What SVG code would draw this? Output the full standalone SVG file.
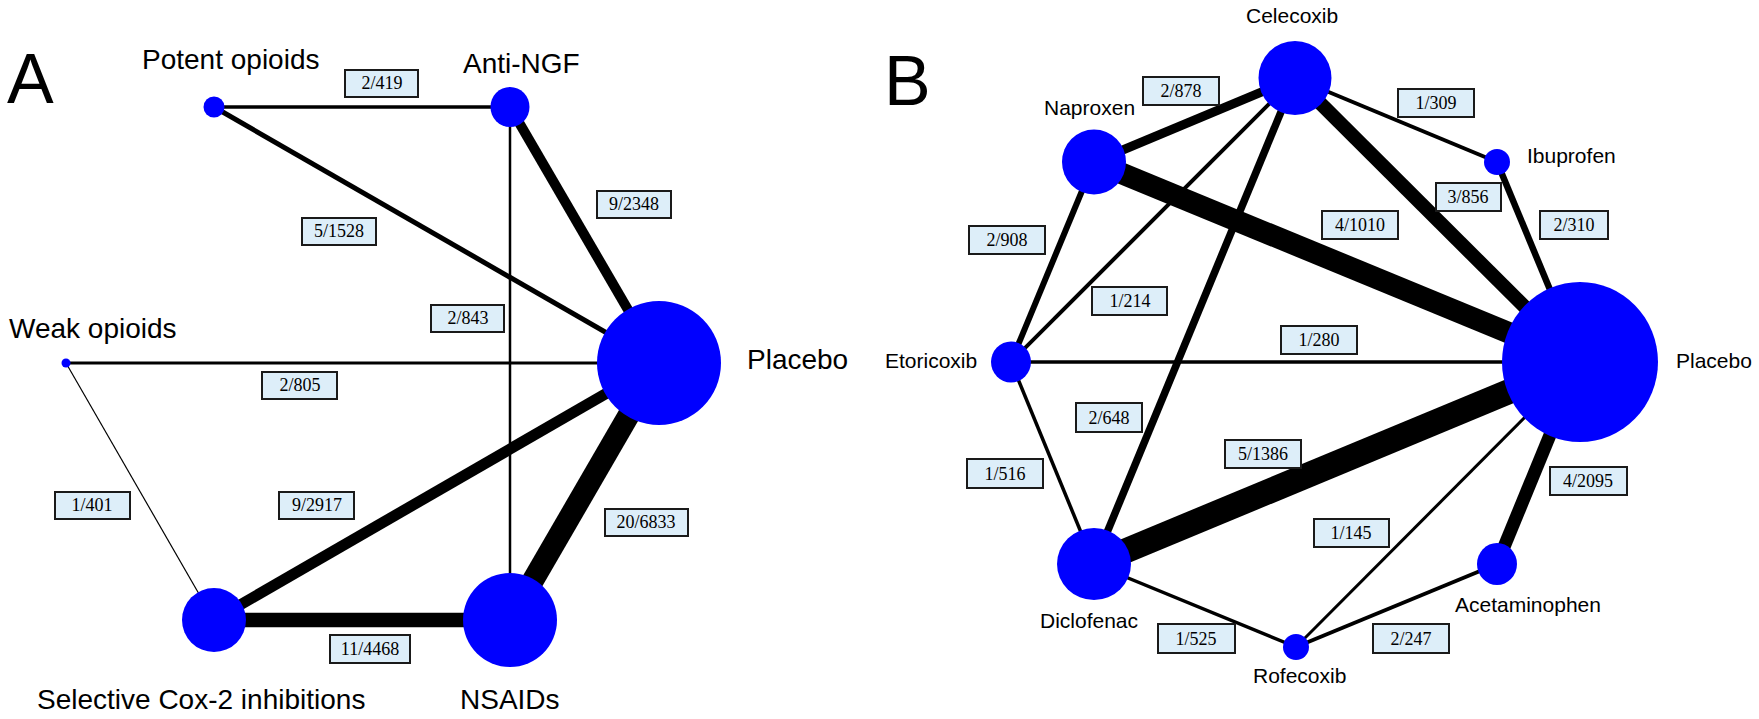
<svg xmlns="http://www.w3.org/2000/svg" width="1759" height="719" viewBox="0 0 1759 719">
<style>
.n{fill:#0000ff}
.e{stroke:#000;fill:none}
.lb rect{fill:#ddeef9;stroke:#1a1a1a;stroke-width:2}
.lb text{font-family:"Liberation Serif",serif;font-size:18px;text-anchor:middle;fill:#000}
.t{font-family:"Liberation Sans",Arial,sans-serif;fill:#000}
.ta{font-size:28px}
.tb{font-size:21px}
.big{font-size:70px}
</style>
<rect width="1759" height="719" fill="#fff"/>
<text class="t big" x="7" y="103">A</text>
<text class="t big" x="884" y="105">B</text>
<g id="edges">
<line class="e" x1="214" y1="107" x2="510" y2="107" stroke-width="3.5"/>
<line class="e" x1="214" y1="107" x2="659" y2="363" stroke-width="5"/>
<line class="e" x1="510" y1="107" x2="659" y2="363" stroke-width="10"/>
<line class="e" x1="510" y1="107" x2="510" y2="620" stroke-width="2.5"/>
<line class="e" x1="66" y1="363" x2="659" y2="363" stroke-width="3"/>
<line class="e" x1="66" y1="363" x2="214" y2="620" stroke-width="1.2"/>
<line class="e" x1="214" y1="620" x2="659" y2="363" stroke-width="11"/>
<line class="e" x1="510" y1="620" x2="659" y2="363" stroke-width="22"/>
<line class="e" x1="214" y1="620" x2="510" y2="620" stroke-width="14.5"/>
<line class="e" x1="1295" y1="78" x2="1094" y2="162" stroke-width="9"/>
<line class="e" x1="1295" y1="78" x2="1497" y2="162" stroke-width="4"/>
<line class="e" x1="1295" y1="78" x2="1580" y2="362" stroke-width="14"/>
<line class="e" x1="1295" y1="78" x2="1011" y2="362" stroke-width="4"/>
<line class="e" x1="1295" y1="78" x2="1094" y2="564" stroke-width="7.5"/>
<line class="e" x1="1094" y1="162" x2="1580" y2="362" stroke-width="21.5"/>
<line class="e" x1="1094" y1="162" x2="1011" y2="362" stroke-width="6"/>
<line class="e" x1="1497" y1="162" x2="1580" y2="362" stroke-width="6.5"/>
<line class="e" x1="1011" y1="362" x2="1580" y2="362" stroke-width="3.5"/>
<line class="e" x1="1011" y1="362" x2="1094" y2="564" stroke-width="3.5"/>
<line class="e" x1="1094" y1="564" x2="1580" y2="362" stroke-width="25"/>
<line class="e" x1="1094" y1="564" x2="1296" y2="647" stroke-width="3.5"/>
<line class="e" x1="1296" y1="647" x2="1580" y2="362" stroke-width="3"/>
<line class="e" x1="1296" y1="647" x2="1497" y2="564" stroke-width="4"/>
<line class="e" x1="1497" y1="564" x2="1580" y2="362" stroke-width="13"/>
</g>
<g id="edge-labels">
<g class="lb"><rect x="345" y="70" width="73" height="27"/><text x="382" y="89">2/419</text></g>
<g class="lb"><rect x="302" y="218" width="74" height="27"/><text x="339" y="237">5/1528</text></g>
<g class="lb"><rect x="597" y="191" width="74" height="27"/><text x="634" y="210">9/2348</text></g>
<g class="lb"><rect x="431" y="305" width="73" height="27"/><text x="468" y="324">2/843</text></g>
<g class="lb"><rect x="262" y="372" width="75" height="27"/><text x="300" y="391">2/805</text></g>
<g class="lb"><rect x="55" y="492" width="75" height="27"/><text x="92" y="511">1/401</text></g>
<g class="lb"><rect x="279" y="492" width="75" height="27"/><text x="317" y="511">9/2917</text></g>
<g class="lb"><rect x="605" y="509" width="83" height="27"/><text x="646" y="528">20/6833</text></g>
<g class="lb"><rect x="330" y="635" width="80" height="28"/><text x="370" y="655">11/4468</text></g>
<g class="lb"><rect x="1143" y="77" width="76" height="28"/><text x="1181" y="97">2/878</text></g>
<g class="lb"><rect x="1398" y="89" width="76" height="28"/><text x="1436" y="109">1/309</text></g>
<g class="lb"><rect x="1436" y="183" width="65" height="28"/><text x="1468" y="203">3/856</text></g>
<g class="lb"><rect x="1540" y="211" width="68" height="28"/><text x="1574" y="231">2/310</text></g>
<g class="lb"><rect x="1322" y="211" width="76" height="28"/><text x="1360" y="231">4/1010</text></g>
<g class="lb"><rect x="969" y="226" width="76" height="28"/><text x="1007" y="246">2/908</text></g>
<g class="lb"><rect x="1092" y="287" width="75" height="28"/><text x="1130" y="307">1/214</text></g>
<g class="lb"><rect x="1281" y="326" width="76" height="28"/><text x="1319" y="346">1/280</text></g>
<g class="lb"><rect x="1076" y="403" width="66" height="29"/><text x="1109" y="424">2/648</text></g>
<g class="lb"><rect x="967" y="459" width="76" height="29"/><text x="1005" y="480">1/516</text></g>
<g class="lb"><rect x="1225" y="440" width="76" height="28"/><text x="1263" y="460">5/1386</text></g>
<g class="lb"><rect x="1550" y="467" width="77" height="28"/><text x="1588" y="487">4/2095</text></g>
<g class="lb"><rect x="1314" y="519" width="75" height="28"/><text x="1351" y="539">1/145</text></g>
<g class="lb"><rect x="1158" y="624" width="77" height="29"/><text x="1196" y="645">1/525</text></g>
<g class="lb"><rect x="1373" y="624" width="76" height="29"/><text x="1411" y="645">2/247</text></g>
</g>
<g id="potent-opioids"><ellipse class="n" cx="214" cy="107" rx="10.5" ry="10.5"/><text class="t ta" x="142" y="69">Potent opioids</text></g>
<g id="anti-ngf"><ellipse class="n" cx="510" cy="107" rx="19.5" ry="20"/><text class="t ta" x="463" y="73">Anti-NGF</text></g>
<g id="placebo-a"><ellipse class="n" cx="659" cy="363" rx="62" ry="62"/><text class="t ta" x="747" y="369">Placebo</text></g>
<g id="weak-opioids"><ellipse class="n" cx="66" cy="363" rx="4.5" ry="4.5"/><text class="t ta" x="9" y="338">Weak opioids</text></g>
<g id="selective-cox2"><ellipse class="n" cx="214" cy="620" rx="32" ry="32"/><text class="t ta" x="37" y="709">Selective Cox-2 inhibitions</text></g>
<g id="nsaids"><ellipse class="n" cx="510" cy="620" rx="47" ry="47"/><text class="t ta" x="460" y="709">NSAIDs</text></g>
<g id="celecoxib"><ellipse class="n" cx="1295" cy="78" rx="36.5" ry="37"/><text class="t tb" x="1246" y="23">Celecoxib</text></g>
<g id="naproxen"><ellipse class="n" cx="1094" cy="162" rx="32" ry="32.5"/><text class="t tb" x="1044" y="115">Naproxen</text></g>
<g id="ibuprofen"><ellipse class="n" cx="1497" cy="162" rx="13" ry="13"/><text class="t tb" x="1527" y="163">Ibuprofen</text></g>
<g id="etoricoxib"><ellipse class="n" cx="1011" cy="362" rx="20" ry="20.5"/><text class="t tb" x="885" y="368">Etoricoxib</text></g>
<g id="placebo-b"><ellipse class="n" cx="1580" cy="362" rx="78" ry="80"/><text class="t tb" x="1676" y="368">Placebo</text></g>
<g id="diclofenac"><ellipse class="n" cx="1094" cy="564" rx="37" ry="36"/><text class="t tb" x="1040" y="628">Diclofenac</text></g>
<g id="rofecoxib"><ellipse class="n" cx="1296" cy="647" rx="13" ry="13"/><text class="t tb" x="1253" y="683">Rofecoxib</text></g>
<g id="acetaminophen"><ellipse class="n" cx="1497" cy="564" rx="20" ry="21"/><text class="t tb" x="1455" y="612">Acetaminophen</text></g>
</svg>
